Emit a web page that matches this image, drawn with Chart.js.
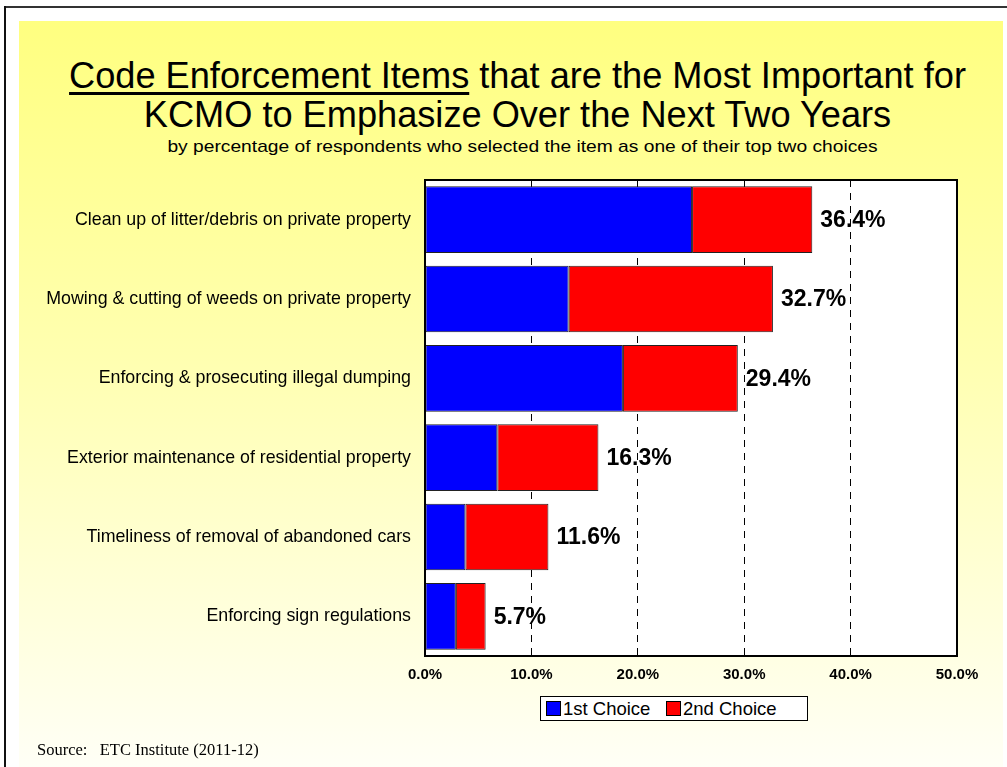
<!DOCTYPE html>
<html>
<head>
<meta charset="utf-8">
<script src="https://cdn.jsdelivr.net/npm/chart.js@4.4.1/dist/chart.umd.min.js"></script>
<style>
  html, body { margin: 0; padding: 0; background: #fff; }
  #page { position: relative; width: 1007px; height: 767px; overflow: hidden; background: #fff; }
  #frameTop { position: absolute; left: 4px; top: 6px; right: 0; height: 2px; background: #333; }
  #frameLeft { position: absolute; left: 4px; top: 6px; width: 2px; bottom: 0; background: #111; }
  #panel { position: absolute; left: 19px; top: 21px; width: 984px; height: 746px;
           background: linear-gradient(to bottom, #ffff80 0%, #ffffb0 45%, #fffff6 100%); }
  .txt { position: absolute; font-family: "Liberation Sans", Arial, sans-serif; color: #000; white-space: nowrap; }
  #title { left: 14px; width: 1007px; top: 56px; text-align: center; font-size: 36px; line-height: 39px;
           transform: scaleX(1.005); }
  #title u { text-decoration-thickness: 3px; text-underline-offset: 4px; }
  #subtitle { left: 19px; width: 1007px; top: 137px; text-align: center; font-size: 17px; transform: scaleX(1.13); }
  #source { left: 37px; top: 740px; font-family: "Liberation Serif", "Times New Roman", serif; font-size: 16.5px; }
  #legend { position: absolute; left: 540px; top: 696px; width: 266px; height: 23px; background: #fff;
            border: 1px solid #000; font-family: "Liberation Sans", Arial, sans-serif; font-size: 18.5px; }
  #legend span.sw { display: inline-block; width: 13px; height: 13px; border: 1px solid #000; vertical-align: -1px; margin-right: 2px; }
  #legend .item { position: absolute; top: 0px; line-height: 23px; }
  #wrap { position: absolute; left: 0; top: 0; width: 1007px; height: 767px; }
</style>
</head>
<body>
<div id="page">
  <div id="frameTop"></div>
  <div id="frameLeft"></div>
  <div id="panel"></div>
  <div id="title" class="txt"><u>Code Enforcement Items</u> that are the Most Important for<br>KCMO to Emphasize Over the Next Two Years</div>
  <div id="subtitle" class="txt">by percentage of respondents who selected the item as one of their top two choices</div>
  <div id="wrap"><canvas id="chart"></canvas></div>
  <div id="legend"></div>
  <div id="source" class="txt">Source:&nbsp;&nbsp;&nbsp;ETC Institute (2011-12)</div>
</div>
<script>
// survey items, top to bottom
var items = [
  "Clean up of litter/debris on private property",
  "Mowing & cutting of weeds on private property",
  "Enforcing & prosecuting illegal dumping",
  "Exterior maintenance of residential property",
  "Timeliness of removal of abandoned cars",
  "Enforcing sign regulations"
];
var firstChoice = [25.1, 13.5, 18.6, 6.8, 3.8, 2.9];
var secondChoice = [11.3, 19.2, 10.8, 9.5, 7.8, 2.8];
var seriesNames = ["1st Choice", "2nd Choice"];
var seriesColors = ["#0000ff", "#ff0000"];
var xTicks = [0, 10, 20, 30, 40, 50];

var totals = firstChoice.map(function (v, i) { return Math.round((v + secondChoice[i]) * 10) / 10; });

// legend
var legendHtml = "";
var legendX = [5, 125];
seriesNames.forEach(function (name, i) {
  legendHtml += "<div class='item' style='left:" + legendX[i] + "px'><span class='sw' style='background:" + seriesColors[i] + "'></span>" + name + "</div>";
});
document.getElementById("legend").innerHTML = legendHtml;

// white plot area behind the grid, black frame on top
var plotFrame = {
  id: "plotFrame",
  beforeDraw: function (chart) {
    var a = chart.chartArea, ctx = chart.ctx;
    ctx.save();
    ctx.fillStyle = "#fff";
    ctx.fillRect(a.left, a.top, a.right - a.left, a.bottom - a.top);
    ctx.restore();
  },
  afterDatasetsDraw: function (chart) {
    var a = chart.chartArea, ctx = chart.ctx;
    ctx.save();
    ctx.strokeStyle = "#000";
    ctx.lineWidth = 2;
    ctx.strokeRect(a.left, a.top, a.right - a.left, a.bottom - a.top);
    ctx.restore();
  }
};

// total at the end of each stacked bar
var totalLabels = {
  id: "totalLabels",
  afterDatasetsDraw: function (chart) {
    var ctx = chart.ctx;
    var meta = chart.getDatasetMeta(chart.data.datasets.length - 1);
    ctx.save();
    ctx.font = "bold 23px 'Liberation Sans', Arial, sans-serif";
    ctx.fillStyle = "#000";
    ctx.textAlign = "left";
    ctx.textBaseline = "middle";
    meta.data.forEach(function (bar, i) {
      ctx.fillText(totals[i].toFixed(1) + "%", bar.x + 8, bar.y + 1);
    });
    ctx.restore();
  }
};

var ctx = document.getElementById("chart").getContext("2d");
var chart = new Chart(ctx, {
  type: "bar",
  data: {
    labels: items,
    datasets: [
      { label: seriesNames[0], data: firstChoice, backgroundColor: seriesColors[0] },
      { label: seriesNames[1], data: secondChoice, backgroundColor: seriesColors[1] }
    ]
  },
  options: {
    indexAxis: "y",
    responsive: true,
    maintainAspectRatio: false,
    animation: false,
    layout: { padding: { top: 180, right: 50, left: 0, bottom: 0 } },
    datasets: {
      bar: {
        categoryPercentage: 1,
        barPercentage: 0.84,
        borderColor: "#222",
        borderWidth: 1,
        borderSkipped: false
      }
    },
    plugins: {
      legend: { display: false },
      tooltip: { enabled: false }
    },
    scales: {
      x: {
        stacked: true,
        min: xTicks[0],
        max: xTicks[xTicks.length - 1],
        afterBuildTicks: function (scale) {
          scale.ticks = xTicks.map(function (v) { return { value: v }; });
        },
        afterFit: function (scale) { scale.height = 111; },
        // in v4 border.dash sets the dash of the grid lines too
        border: { display: false, dash: [7, 6] },
        grid: {
          drawTicks: false,
          color: function (c) {
            var v = c.tick ? c.tick.value : 0;
            return (v === 0 || v === 50) ? "rgba(0,0,0,0)" : "#000";
          },
          lineWidth: 1
        },
        ticks: {
          padding: 10,
          color: "#000",
          font: { family: "'Liberation Sans', Arial, sans-serif", size: 15, weight: "bold" },
          callback: function (v) { return Number(v).toFixed(1) + "%"; }
        }
      },
      y: {
        stacked: true,
        afterFit: function (scale) { scale.width = 425; },
        border: { display: false },
        grid: { display: false, drawTicks: false },
        ticks: {
          padding: 14,
          color: "#000",
          font: { family: "'Liberation Sans', Arial, sans-serif", size: 17.8 }
        }
      }
    }
  },
  plugins: [plotFrame, totalLabels]
});
</script>
</body>
</html>
